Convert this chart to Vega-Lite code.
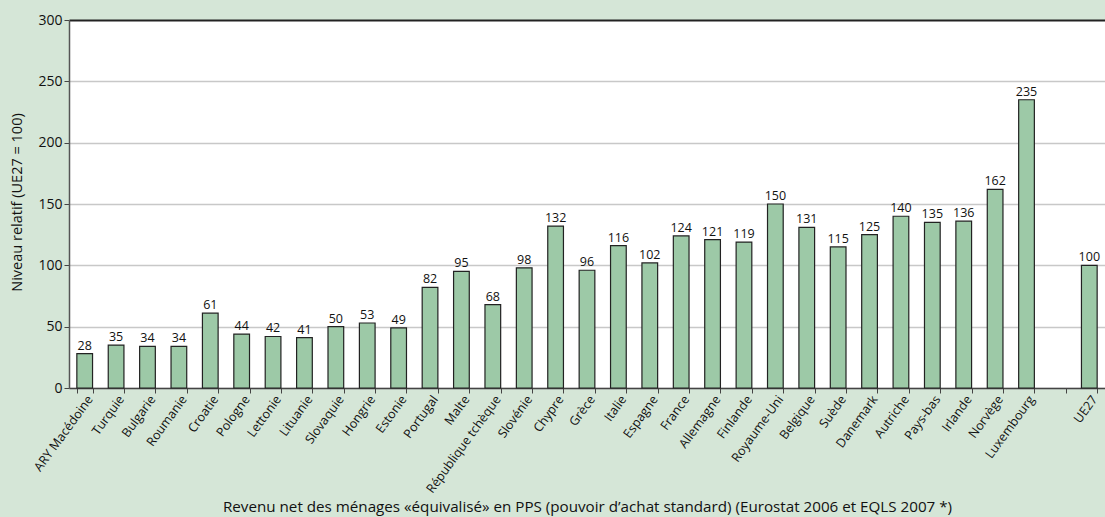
{
  "$schema": "https://vega.github.io/schema/vega-lite/v6.json",
  "autosize": {"type": "none"},
  "width": 1036,
  "height": 368,
  "padding": {"left": 69, "top": 20, "right": 0, "bottom": 129},
  "background": "#d5e6d7",
  "config": {
    "view": {"fill": "#ffffff", "stroke": null},
    "font": "Open Sans",
    "axis": {"labelFont": "Open Sans", "titleFont": "Open Sans", "labelColor": "#111", "titleColor": "#111", "titleFontWeight": "normal"}
  },
  "data": {
    "values": [
      {"pays": "ARY Macédoine", "niveau": 28},
      {"pays": "Turquie", "niveau": 35},
      {"pays": "Bulgarie", "niveau": 34},
      {"pays": "Roumanie", "niveau": 34},
      {"pays": "Croatie", "niveau": 61},
      {"pays": "Pologne", "niveau": 44},
      {"pays": "Lettonie", "niveau": 42},
      {"pays": "Lituanie", "niveau": 41},
      {"pays": "Slovaquie", "niveau": 50},
      {"pays": "Hongrie", "niveau": 53},
      {"pays": "Estonie", "niveau": 49},
      {"pays": "Portugal", "niveau": 82},
      {"pays": "Malte", "niveau": 95},
      {"pays": "République tchèque", "niveau": 68},
      {"pays": "Slovénie", "niveau": 98},
      {"pays": "Chypre", "niveau": 132},
      {"pays": "Grèce", "niveau": 96},
      {"pays": "Italie", "niveau": 116},
      {"pays": "Espagne", "niveau": 102},
      {"pays": "France", "niveau": 124},
      {"pays": "Allemagne", "niveau": 121},
      {"pays": "Finlande", "niveau": 119},
      {"pays": "Royaume-Uni", "niveau": 150},
      {"pays": "Belgique", "niveau": 131},
      {"pays": "Suède", "niveau": 115},
      {"pays": "Danemark", "niveau": 125},
      {"pays": "Autriche", "niveau": 140},
      {"pays": "Pays-bas", "niveau": 135},
      {"pays": "Irlande", "niveau": 136},
      {"pays": "Norvège", "niveau": 162},
      {"pays": "Luxembourg", "niveau": 235},
      {"pays": "UE27", "niveau": 100}
    ]
  },
  "encoding": {
    "x": {
      "field": "pays",
      "type": "nominal",
      "sort": null,
      "scale": {
        "domain": ["ARY Macédoine", "Turquie", "Bulgarie", "Roumanie", "Croatie", "Pologne", "Lettonie", "Lituanie", "Slovaquie", "Hongrie", "Estonie", "Portugal", "Malte", "République tchèque", "Slovénie", "Chypre", "Grèce", "Italie", "Espagne", "France", "Allemagne", "Finlande", "Royaume-Uni", "Belgique", "Suède", "Danemark", "Autriche", "Pays-bas", "Irlande", "Norvège", "Luxembourg", " ", "UE27"],
        "paddingInner": 0.5,
        "paddingOuter": 0.25
      },
      "axis": {
        "title": "Revenu net des ménages «équivalisé» en PPS (pouvoir d’achat standard) (Eurostat 2006 et EQLS 2007 *)",
        "titleFontSize": 15.2,
        "titleY": 111,
        "titleBaseline": "top",
        "labelAngle": -54,
        "labelFontSize": 12.5,
        "labelPadding": 0,
        "labelAlign": "right",
        "labelBaseline": "top",
        "tickBand": "extent",
        "tickSize": 5,
        "tickColor": "#444",
        "domainColor": "#444",
        "domainWidth": 1.5,
        "grid": false
      }
    },
    "y": {
      "field": "niveau",
      "type": "quantitative",
      "scale": {"domain": [0, 300], "nice": false},
      "axis": {
        "title": "Niveau relatif (UE27 = 100)",
        "titleFontSize": 14.5,
        "titleX": -45,
        "titleY": 182,
        "titleAlign": "center",
        "titleAngle": -90,
        "titleBaseline": "bottom",
        "values": [0, 50, 100, 150, 200, 250, 300],
        "labelFontSize": 14,
        "labelPadding": 2,
        "tickSize": 5,
        "tickColor": "#444",
        "domainColor": "#555",
        "domainWidth": 1.5,
        "grid": true,
        "gridColor": {"condition": {"test": "datum.value == 300", "value": "#222"}, "value": "#c8c8c8"},
        "gridWidth": {"condition": {"test": "datum.value == 300", "value": 2}, "value": 1.5}
      }
    }
  },
  "layer": [
    {
      "mark": {"type": "bar", "fill": "#9dc9a7", "stroke": "#222", "strokeWidth": 1.2}
    },
    {
      "mark": {"type": "text", "dy": -8, "fontSize": 12.5, "color": "#111", "font": "Open Sans"},
      "encoding": {"text": {"field": "niveau", "type": "quantitative"}}
    }
  ]
}
